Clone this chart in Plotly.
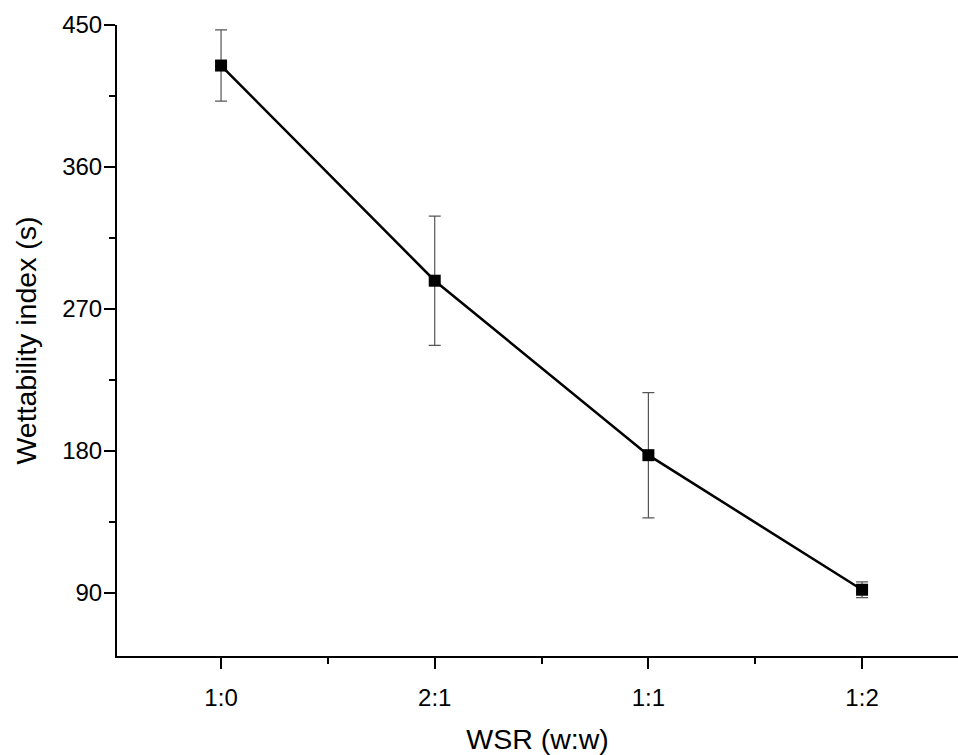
import plotly.graph_objects as go

categories = ["1:0", "2:1", "1:1", "1:2"]
wettability = [424.3, 287.9, 177.3, 92.0]
errors = [22.6, 41.0, 39.7, 5.0]
y_ticks = [90, 180, 270, 360, 450]
y_minor = [135, 225, 315, 405]
x_minor = [0.5, 1.5, 2.5]

FONT = "Arial, Liberation Sans, sans-serif"

fig = go.Figure()
fig.add_trace(go.Scatter(
    x=list(range(len(categories))), y=wettability,
    mode="lines+markers",
    line=dict(color="black", width=2.5),
    marker=dict(symbol="square", size=12, color="black"),
    error_y=dict(type="data", array=errors, visible=True,
                 color="#555555", thickness=1.2, width=6),
    showlegend=False,
))

fig.update_layout(
    width=958, height=755,
    margin=dict(l=117, r=0, t=25, b=97),
    paper_bgcolor="white", plot_bgcolor="white",
    font=dict(family=FONT, color="black"),
    xaxis=dict(
        range=[-0.487, 3.449],
        tickmode="array", tickvals=list(range(len(categories))), ticktext=categories,
        ticks="outside", ticklen=11, tickwidth=2, tickcolor="black",
        showline=True, linewidth=2, linecolor="black",
        showgrid=False, zeroline=False,
        tickfont=dict(size=24, family=FONT),
        ticklabelstandoff=8,
        minor=dict(tickvals=x_minor, ticks="outside", ticklen=6, tickwidth=2, tickcolor="black"),
        title=dict(text="WSR (w:w)", font=dict(size=28.5, family=FONT), standoff=24),
    ),
    yaxis=dict(
        range=[50, 450],
        tickmode="array", tickvals=y_ticks,
        ticks="outside", ticklen=11, tickwidth=2, tickcolor="black",
        showline=True, linewidth=2, linecolor="black",
        showgrid=False, zeroline=False,
        tickfont=dict(size=24, family=FONT),
        ticklabelstandoff=-3,
        minor=dict(tickvals=y_minor, ticks="outside", ticklen=6, tickwidth=2, tickcolor="black"),
        title=dict(text="Wettability index (s)", font=dict(size=28.5, family=FONT), standoff=17),
    ),
)

fig.write_html("out.html", config={"displayModeBar": False},
               post_script="document.body.style.margin='0';document.body.style.overflow='hidden';")
